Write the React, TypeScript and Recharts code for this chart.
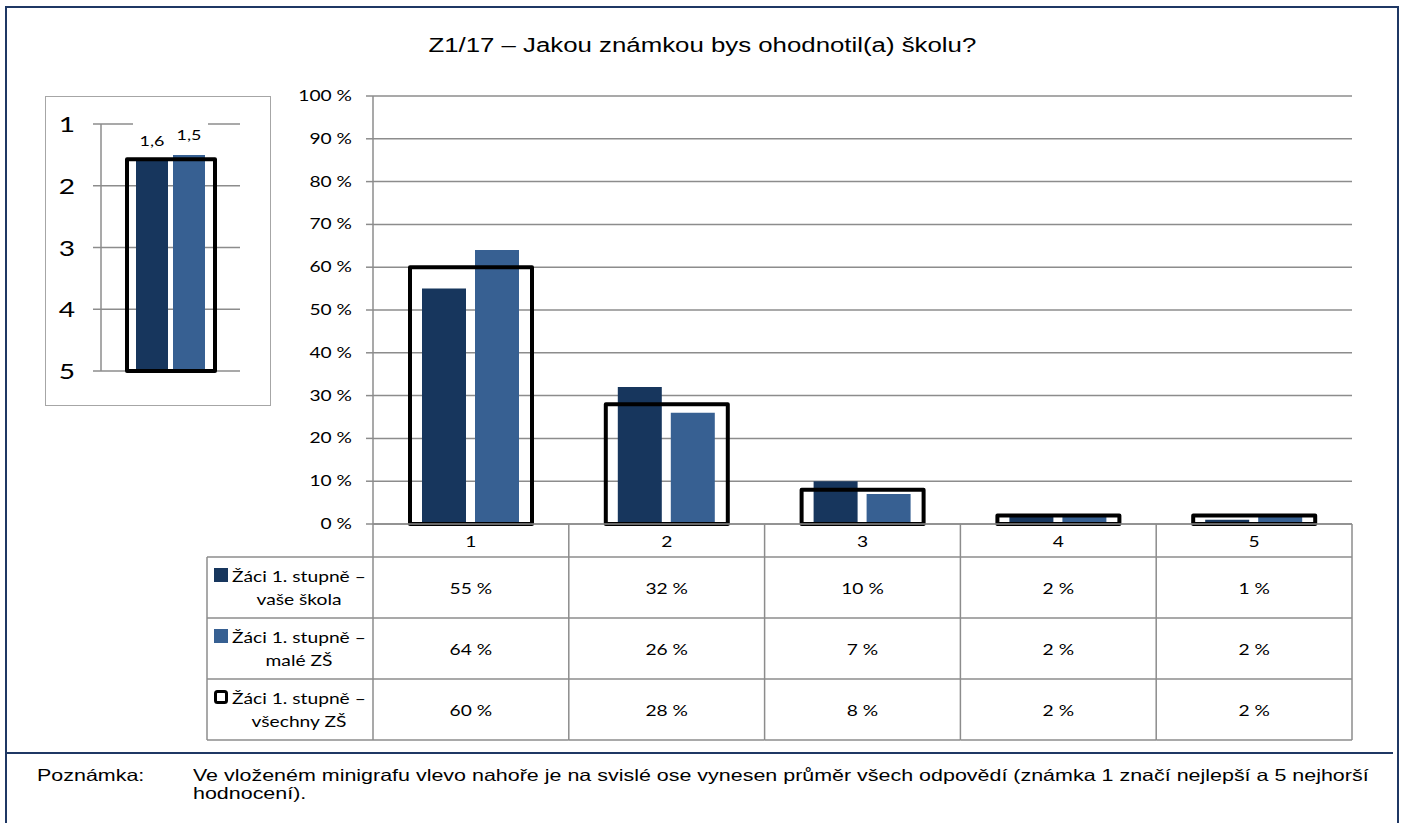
import React from "react";
import {
  BarChart,
  Bar,
  XAxis,
  YAxis,
  CartesianGrid,
  LabelList,
} from "recharts";

// values
const categories = ["1", "2", "3", "4", "5"];
const vaseSkola = [55, 32, 10, 2, 1];
const maleZs = [64, 26, 7, 2, 2];
const vsechnyZs = [60, 28, 8, 2, 2];
const yTicks = [0, 10, 20, 30, 40, 50, 60, 70, 80, 90, 100];

const seriesLabels = [
  ["Žáci 1. stupně –", "vaše škola"],
  ["Žáci 1. stupně –", "malé ZŠ"],
  ["Žáci 1. stupně –", "všechny ZŠ"],
];

// mini chart: average grade
const miniTicks = [1, 2, 3, 4, 5];
const miniAverages = [1.6, 1.5, 1.57];

const DARK = "#17365d";
const LIGHT = "#376092";
const GRID = "#8c8c8c";
const FONT = "Lato, 'Open Sans', sans-serif";
const ARIAL = "'Liberation Sans', Arial, sans-serif";
const SX = 1.28; // the reference text is wider than it is tall

const data = categories.map((c, i) => ({
  cat: c,
  skola: vaseSkola[i],
  male: maleZs[i],
  vsechny: vsechnyZs[i],
}));

const miniData = [
  { name: "avg", skola: miniAverages[0], male: miniAverages[1], vsechny: miniAverages[2] },
];

// main chart geometry (svg coords)
const CH_LEFT = 200;
const CH_TOP = 60;
const PLOT_W = 979;
const PLOT_BOTTOM = 464;
const BAND = PLOT_W / categories.length;
const ROWS = [33, 94, 155, 216];
const LEG_X = 7;

// wide text
const SText = ({
  x,
  y,
  anchor = "middle",
  size = 15,
  children,
}: {
  x: number;
  y: number;
  anchor?: string;
  size?: number;
  children: React.ReactNode;
}) => (
  <text
    transform={`translate(${x},${y}) scale(${SX},1)`}
    x={0}
    y={0}
    textAnchor={anchor as any}
    fontSize={size}
    fontFamily={FONT}
    fill="#000"
  >
    {children}
  </text>
);

const FrameShape = (props: any) => {
  const { x, y, width, height } = props;
  if (width == null || height == null) return null;
  return (
    <rect
      x={x}
      y={y}
      width={width}
      height={Math.max(height, 0)}
      fill="none"
      stroke="#000"
      strokeWidth={4}
      strokeLinejoin="round"
    />
  );
};

const Marker = ({ i, x, y }: { i: number; x: number; y: number }) => {
  if (i === 2)
    return (
      <rect x={x + 1.5} y={y + 1.5} width={11} height={11} rx={2} fill="#fff" stroke="#000" strokeWidth={3} />
    );
  return <rect x={x} y={y} width={14} height={14} fill={i === 0 ? DARK : LIGHT} />;
};

const TableTick = (props: any) => {
  const { x, payload } = props;
  const i = payload.index;
  const half = BAND / 2;
  const y0 = PLOT_BOTTOM;
  const rowsVals = [vaseSkola[i], maleZs[i], vsechnyZs[i]];
  return (
    <g>
      <line x1={x - half} x2={x - half} y1={y0} y2={y0 + ROWS[3]} stroke={GRID} strokeWidth={1.5} />
      {i === categories.length - 1 && (
        <line x1={x + half} x2={x + half} y1={y0} y2={y0 + ROWS[3]} stroke={GRID} strokeWidth={1.5} />
      )}
      {ROWS.map((r) => (
        <line key={r} x1={x - half} x2={x + half} y1={y0 + r} y2={y0 + r} stroke={GRID} strokeWidth={1.5} />
      ))}
      <SText x={x} y={y0 + 23}>{payload.value}</SText>
      {rowsVals.map((v, k) => (
        <SText key={k} x={x} y={y0 + (ROWS[k] + ROWS[k + 1]) / 2 + 6}>
          {`${v} %`}
        </SText>
      ))}
      {i === 0 && (
        <g>
          <line x1={LEG_X} x2={LEG_X} y1={y0 + ROWS[0]} y2={y0 + ROWS[3]} stroke={GRID} strokeWidth={1.5} />
          {ROWS.map((r) => (
            <line key={r} x1={LEG_X} x2={x - half} y1={y0 + r} y2={y0 + r} stroke={GRID} strokeWidth={1.5} />
          ))}
          {seriesLabels.map((lab, k) => {
            const top = y0 + ROWS[k];
            return (
              <g key={k}>
                <Marker i={k} x={14} y={top + 11} />
                <SText x={32} y={top + 25} anchor="start">
                  {lab[0]}
                </SText>
                <SText x={99} y={top + 48}>
                  {lab[1]}
                </SText>
              </g>
            );
          })}
        </g>
      )}
    </g>
  );
};

const PercentTick = (props: any) => {
  const { x, y, payload } = props;
  return (
    <SText x={x} y={y + 5} anchor="end">
      {`${payload.value} %`}
    </SText>
  );
};

const MiniTick = (props: any) => {
  const { x, y, payload } = props;
  return (
    <SText x={x} y={y + 8} anchor="end" size={22}>
      {payload.value}
    </SText>
  );
};

const MiniLabel = (props: any) => {
  const { x, y, width, value } = props;
  const v = Array.isArray(value) ? value[1] : value;
  const cx = x + width / 2;
  const cy = y - 20;
  return (
    <g>
      <rect x={cx - 19} y={cy - 22} width={38} height={32} fill="#fff" />
      <SText x={cx} y={cy + 5} size={14}>
        {String(v.toFixed(1)).replace(".", ",")}
      </SText>
    </g>
  );
};

export default function App() {
  return (
    <div
      style={{
        position: "absolute",
        left: 0,
        top: 0,
        width: 1404,
        height: 823,
        background: "#fff",
        overflow: "hidden",
        fontFamily: FONT,
      }}
    >
      {/* outer frame */}
      <div
        style={{
          position: "absolute",
          left: 5,
          top: 6,
          width: 1394,
          height: 830,
          border: "2px solid #1f3864",
          boxSizing: "border-box",
        }}
      />
      <div style={{ position: "absolute", left: 7, top: 752, width: 1386, height: 2, background: "#1f3864" }} />

      <div
        style={{
          position: "absolute",
          left: 0,
          width: 1404,
          top: 34,
          textAlign: "center",
          fontFamily: ARIAL,
          fontSize: 20,
          color: "#000",
        }}
      >
        <span style={{ display: "inline-block", transform: `scaleX(1.29)` }}>
          Z1/17 – Jakou známkou bys ohodnotil(a) školu?
        </span>
      </div>

      {/* main chart with data table */}
      <div style={{ position: "absolute", left: CH_LEFT, top: CH_TOP }}>
        <BarChart
          width={1180}
          height={700}
          data={data}
          margin={{ top: 36, right: 28, left: 113, bottom: 20 }}
          barGap={9}
          style={{ overflow: "visible" }}
        >
          <CartesianGrid horizontal vertical={false} stroke={GRID} strokeWidth={1.5} />
          <XAxis
            xAxisId="a"
            dataKey="cat"
            height={216}
            axisLine={{ stroke: GRID, strokeWidth: 1.5 }}
            tickLine={false}
            tickSize={0}
            tickMargin={0}
            interval={0}
            tick={<TableTick />}
          />
          <XAxis xAxisId="b" dataKey="cat" hide />
          <YAxis
            domain={[0, 100]}
            ticks={yTicks}
            width={60}
            tickSize={7}
            tickMargin={14}
            axisLine={{ stroke: GRID, strokeWidth: 1.5 }}
            tickLine={{ stroke: GRID, strokeWidth: 1.5 }}
            tick={<PercentTick />}
          />
          <YAxis
            yAxisId="r"
            orientation="right"
            domain={[0, 100]}
            width={0}
            tick={false}
            tickLine={false}
            axisLine={{ stroke: GRID, strokeWidth: 1.5 }}
          />
          <Bar xAxisId="a" dataKey="skola" fill={DARK} barSize={44} isAnimationActive={false} />
          <Bar xAxisId="a" dataKey="male" fill={LIGHT} barSize={44} isAnimationActive={false} />
          <Bar xAxisId="b" dataKey="vsechny" barSize={122} shape={<FrameShape />} isAnimationActive={false} />
        </BarChart>
      </div>

      {/* mini chart */}
      <div
        style={{
          position: "absolute",
          left: 45,
          top: 96,
          width: 226,
          height: 310,
          border: "1.5px solid #a6a6a6",
          boxSizing: "border-box",
        }}
      />
      <div style={{ position: "absolute", left: 45, top: 96 }}>
        <BarChart
          width={225}
          height={309}
          data={miniData}
          margin={{ top: 28, right: 30, left: 16, bottom: 34 }}
          barGap={5}
          style={{ overflow: "visible" }}
        >
          <CartesianGrid horizontal vertical={false} stroke={GRID} strokeWidth={1.5} />
          <XAxis xAxisId="a" dataKey="name" hide />
          <XAxis xAxisId="b" dataKey="name" hide />
          <YAxis
            domain={[1, 5]}
            ticks={miniTicks}
            reversed
            width={40}
            tickSize={8}
            tickMargin={18}
            axisLine={{ stroke: GRID, strokeWidth: 1.5 }}
            tickLine={{ stroke: GRID, strokeWidth: 1.5 }}
            tick={<MiniTick />}
          />
          <YAxis
            yAxisId="r"
            orientation="right"
            domain={[1, 5]}
            reversed
            width={0}
            tick={false}
            tickLine={false}
            axisLine={{ stroke: GRID, strokeWidth: 1.5 }}
          />
          <Bar xAxisId="a" dataKey={(d: any) => [5, d.skola]} fill={DARK} barSize={32} isAnimationActive={false}>
            <LabelList content={<MiniLabel />} />
          </Bar>
          <Bar xAxisId="a" dataKey={(d: any) => [5, d.male]} fill={LIGHT} barSize={32} isAnimationActive={false}>
            <LabelList content={<MiniLabel />} />
          </Bar>
          <Bar
            xAxisId="b"
            dataKey={(d: any) => [5, d.vsechny]}
            barSize={88}
            shape={<FrameShape />}
            isAnimationActive={false}
          />
        </BarChart>
      </div>

      {/* note */}
      <div
        style={{
          position: "absolute",
          left: 37,
          top: 766,
          fontFamily: ARIAL,
          fontSize: 16.5,
          lineHeight: "18px",
          color: "#000",
          transform: "scaleX(1.3)",
          transformOrigin: "left top",
        }}
      >
        Poznámka:
      </div>
      <div
        style={{
          position: "absolute",
          left: 193,
          top: 766,
          whiteSpace: "nowrap",
          fontFamily: ARIAL,
          fontSize: 16.5,
          lineHeight: "18px",
          color: "#000",
          transform: "scaleX(1.3)",
          transformOrigin: "left top",
        }}
      >
        Ve vloženém minigrafu vlevo nahoře je na svislé ose vynesen průměr všech odpovědí (známka 1 značí nejlepší a 5
        nejhorší
        <br />
        hodnocení).
      </div>
    </div>
  );
}
